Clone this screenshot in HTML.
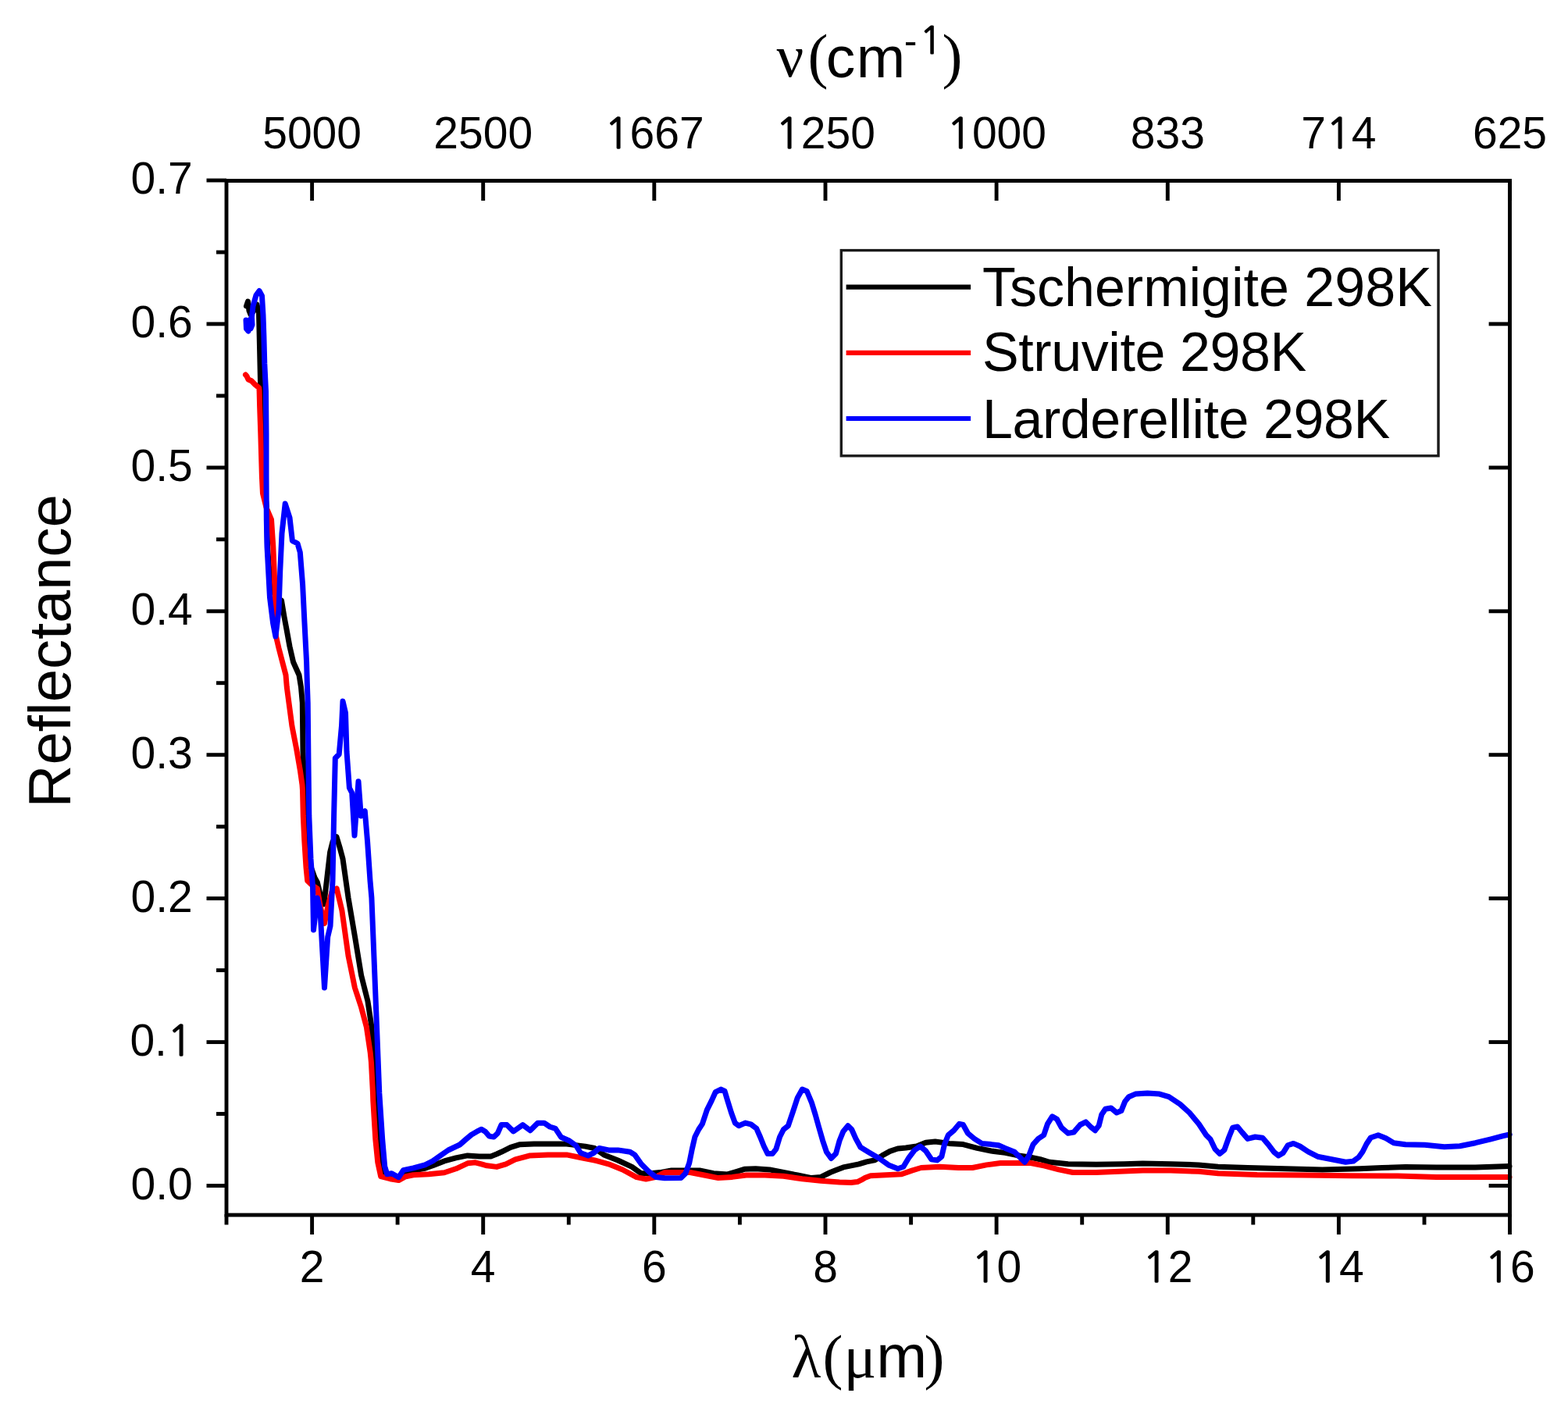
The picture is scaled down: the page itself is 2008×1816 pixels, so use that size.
<!DOCTYPE html>
<html><head><meta charset="utf-8"><title>Reflectance spectra</title>
<style>
html,body{margin:0;padding:0;background:#fff;}
svg{display:block;}
.tl{font-family:"Liberation Sans",Arial,sans-serif;font-size:57px;fill:#000;}
.ti{font-family:"Liberation Sans",Arial,sans-serif;font-size:75px;fill:#000;}
.tx{font-family:"Liberation Serif","Times New Roman",serif;font-size:78px;fill:#000;}
.lg{font-family:"Liberation Sans",Arial,sans-serif;font-size:70px;fill:#000;}
</style></head>
<body>
<svg width="2008" height="1816" viewBox="0 0 2008 1816">
<rect width="2008" height="1816" fill="#fff"/>
<g id="curves">
<path d="M315.5,392.0 L317.5,386.0 L319.0,398.0 L321.0,403.0 L325.0,398.0 L329.0,390.0 L331.5,400.0 L332.6,448.0 L333.5,488.0 L334.5,540.0 L336.5,600.0 L341.5,650.0 L342.5,700.0 L345.5,740.0 L350.0,758.0 L355.0,766.0 L360.5,769.0 L364.0,790.0 L367.0,806.0 L371.0,828.0 L375.6,848.0 L383.0,864.5 L385.5,880.0 L387.3,900.0 L388.0,962.6 L389.3,995.7 L390.0,1012.0 L391.5,1060.0 L394.0,1090.0 L398.0,1110.0 L403.0,1124.0 L406.4,1130.0 L410.0,1145.0 L414.7,1158.0 L417.0,1140.0 L419.7,1116.5 L422.6,1091.6 L426.0,1078.0 L431.0,1071.7 L435.0,1085.0 L439.0,1100.0 L446.0,1149.6 L454.4,1199.0 L462.6,1249.0 L470.9,1282.0 L475.9,1315.0 L479.5,1364.5 L482.5,1400.0 L484.5,1430.0 L487.5,1470.0 L490.0,1498.0 L494.0,1507.0 L503.0,1508.0 L512.0,1507.0 L520.0,1502.0 L530.0,1499.0 L545.0,1496.0 L554.2,1492.8 L569.0,1486.9 L583.9,1482.9 L598.8,1479.9 L613.6,1480.9 L628.5,1480.9 L636.0,1478.0 L642.0,1475.3 L653.9,1469.3 L665.9,1465.7 L683.8,1465.1 L707.7,1465.1 L725.6,1465.1 L749.5,1468.1 L761.5,1470.5 L773.4,1478.9 L791.3,1486.0 L809.3,1494.4 L821.2,1502.8 L833.2,1502.8 L845.1,1501.6 L860.0,1499.0 L895.9,1499.0 L913.8,1502.7 L931.7,1503.9 L943.7,1500.3 L953.2,1497.3 L967.6,1496.7 L985.5,1497.9 L1003.4,1501.5 L1021.3,1505.0 L1039.3,1508.6 L1051.2,1507.4 L1063.2,1501.5 L1070.0,1498.8 L1079.9,1494.9 L1089.9,1492.9 L1099.8,1490.9 L1109.8,1487.9 L1119.8,1485.9 L1129.7,1479.9 L1139.7,1474.4 L1149.6,1471.0 L1160.0,1470.0 L1173.7,1468.0 L1185.6,1463.2 L1197.6,1462.0 L1215.5,1464.4 L1233.4,1465.6 L1251.3,1470.4 L1269.3,1474.0 L1287.2,1476.4 L1305.1,1480.0 L1320.0,1482.3 L1332.0,1484.7 L1343.9,1488.3 L1367.8,1490.7 L1403.7,1491.3 L1439.5,1490.7 L1463.4,1490.1 L1499.3,1490.7 L1535.1,1491.9 L1560.0,1494.3 L1597.8,1495.5 L1645.6,1496.7 L1693.4,1497.9 L1741.2,1496.7 L1769.9,1495.6 L1799.8,1494.6 L1839.6,1495.1 L1889.4,1495.1 L1933.0,1493.6" fill="none" stroke="#000" stroke-width="7.0" stroke-linejoin="round" stroke-linecap="round"/>
<path d="M314.5,480.0 L315.9,481.6 L318.0,486.0 L322.0,487.8 L326.4,492.2 L331.7,496.6 L332.1,500.0 L332.6,520.0 L333.8,555.0 L335.4,610.0 L336.5,632.0 L341.0,650.0 L347.5,665.3 L349.8,700.0 L351.2,732.0 L352.9,782.0 L353.5,815.0 L357.0,830.0 L359.5,839.7 L366.0,864.5 L367.3,880.0 L370.6,904.8 L373.9,929.6 L379.7,959.3 L384.5,987.4 L387.0,1005.0 L387.5,1012.0 L388.3,1045.0 L389.9,1078.0 L392.0,1111.0 L393.7,1128.0 L400.0,1134.0 L406.4,1138.0 L410.0,1160.0 L415.5,1182.6 L420.0,1160.0 L425.0,1142.0 L431.2,1138.0 L437.9,1166.0 L446.0,1224.0 L454.4,1265.0 L462.6,1290.0 L469.3,1315.0 L474.2,1348.0 L475.4,1360.0 L477.5,1400.0 L477.8,1409.6 L480.8,1459.0 L483.8,1488.8 L487.7,1506.7 L499.6,1509.7 L510.5,1511.6 L519.5,1506.7 L529.4,1504.7 L549.2,1503.7 L569.0,1501.7 L583.9,1496.8 L598.8,1489.8 L608.7,1488.8 L616.6,1490.8 L623.5,1492.8 L636.0,1494.4 L647.9,1490.8 L659.9,1484.9 L677.8,1480.1 L701.7,1478.9 L725.6,1478.9 L743.5,1482.5 L761.5,1486.0 L779.4,1490.8 L797.3,1498.0 L815.2,1507.6 L827.2,1510.0 L839.2,1507.6 L851.1,1501.6 L860.0,1501.5 L883.9,1501.5 L901.8,1505.0 L919.8,1508.6 L937.7,1507.4 L955.6,1505.0 L979.5,1505.0 L1003.4,1506.2 L1027.3,1509.8 L1051.2,1512.2 L1075.1,1514.0 L1090.0,1514.5 L1098.0,1513.6 L1103.0,1511.2 L1108.0,1508.2 L1114.8,1505.8 L1134.7,1504.8 L1154.6,1503.8 L1167.7,1499.1 L1179.6,1495.5 L1203.5,1494.3 L1227.4,1495.5 L1245.4,1495.5 L1263.3,1491.9 L1281.2,1489.5 L1305.1,1489.5 L1320.0,1489.5 L1337.9,1493.1 L1355.9,1497.9 L1373.8,1501.5 L1403.7,1501.5 L1433.5,1500.3 L1463.4,1499.1 L1499.3,1499.1 L1535.1,1500.3 L1560.0,1502.7 L1609.8,1504.5 L1669.5,1505.0 L1729.3,1505.7 L1789.8,1506.1 L1839.6,1507.6 L1933.0,1507.6" fill="none" stroke="#f00" stroke-width="7.0" stroke-linejoin="round" stroke-linecap="round"/>
<path d="M315.0,410.0 L315.5,421.0 L318.0,424.0 L318.5,412.0 L320.5,409.0 L321.0,421.0 L323.0,416.0 L322.5,406.0 L324.0,392.0 L328.0,378.0 L332.0,372.5 L335.5,379.0 L337.0,404.0 L337.9,430.5 L338.8,465.7 L340.5,501.0 L341.0,555.0 L341.0,610.0 L341.3,665.0 L342.0,700.0 L345.5,765.0 L349.6,798.0 L352.9,815.0 L357.0,782.0 L358.7,732.0 L361.0,683.0 L365.2,645.0 L371.0,663.0 L374.4,692.6 L381.0,696.0 L384.3,707.4 L387.6,748.8 L390.0,798.0 L392.6,848.0 L393.5,880.0 L394.2,900.0 L395.0,979.0 L395.8,1045.0 L398.0,1100.0 L400.5,1135.0 L401.5,1191.0 L406.4,1150.0 L410.0,1166.0 L415.5,1265.0 L419.7,1200.0 L423.0,1186.0 L426.0,1128.0 L427.6,1045.0 L429.3,971.0 L434.2,966.0 L437.5,929.6 L439.0,898.0 L442.5,913.0 L444.0,962.6 L447.4,1009.0 L450.7,1015.5 L454.0,1070.0 L459.0,1000.7 L462.3,1045.0 L467.3,1038.7 L470.6,1078.0 L474.0,1128.0 L475.9,1149.6 L479.2,1232.0 L482.5,1315.0 L485.8,1400.0 L489.7,1459.0 L492.7,1493.8 L495.7,1503.7 L501.6,1502.7 L510.5,1507.7 L516.5,1498.7 L529.4,1495.8 L544.2,1491.8 L554.2,1486.9 L564.1,1479.9 L574.0,1473.0 L588.8,1466.0 L596.8,1459.0 L603.7,1453.2 L610.6,1449.2 L616.6,1446.2 L621.5,1449.2 L626.5,1455.1 L632.4,1456.1 L637.4,1451.2 L642.0,1440.6 L649.1,1440.6 L657.5,1449.0 L669.4,1440.6 L679.0,1447.8 L688.6,1438.2 L696.9,1438.2 L704.1,1443.0 L711.3,1445.4 L718.4,1456.2 L729.2,1461.0 L737.6,1467.0 L743.5,1476.5 L753.1,1480.0 L760.3,1476.5 L767.4,1470.5 L779.4,1472.9 L791.3,1472.9 L806.9,1475.3 L812.9,1478.9 L821.2,1490.8 L830.8,1500.4 L840.3,1507.6 L851.1,1508.8 L872.0,1508.6 L877.9,1502.7 L882.7,1489.5 L886.3,1471.6 L889.9,1456.0 L894.7,1446.5 L899.4,1439.3 L905.4,1421.4 L911.4,1409.4 L916.2,1398.7 L923.3,1395.1 L928.1,1397.5 L931.7,1409.4 L936.5,1425.0 L941.3,1438.1 L946.1,1441.7 L954.4,1438.1 L961.6,1439.9 L968.8,1445.3 L973.5,1456.0 L978.3,1468.0 L983.1,1477.6 L989.1,1477.6 L993.9,1471.6 L998.6,1456.0 L1003.4,1446.5 L1009.4,1441.7 L1015.4,1423.8 L1021.3,1405.9 L1027.3,1395.1 L1033.3,1397.5 L1039.3,1411.8 L1044.1,1427.4 L1048.8,1444.1 L1053.6,1460.8 L1058.4,1475.2 L1064.4,1483.5 L1070.4,1477.6 L1075.1,1460.8 L1079.9,1448.9 L1085.9,1441.7 L1090.7,1446.5 L1096.0,1458.4 L1102.0,1469.2 L1113.9,1476.4 L1125.9,1483.5 L1137.8,1491.9 L1149.8,1496.7 L1156.9,1494.3 L1164.1,1482.3 L1171.3,1472.8 L1178.4,1468.0 L1185.6,1474.0 L1192.8,1484.7 L1200.0,1485.9 L1205.9,1481.2 L1209.5,1465.6 L1214.3,1453.7 L1221.5,1447.7 L1228.6,1439.3 L1233.4,1440.5 L1239.4,1451.3 L1247.8,1458.4 L1257.3,1464.4 L1269.3,1465.6 L1278.8,1466.8 L1287.2,1470.4 L1299.2,1475.2 L1307.5,1483.5 L1312.3,1488.3 L1317.1,1481.2 L1323.1,1465.6 L1329.6,1458.4 L1336.7,1453.7 L1341.5,1439.3 L1347.5,1429.8 L1353.5,1433.3 L1359.4,1444.1 L1367.8,1451.3 L1375.0,1450.1 L1383.3,1440.5 L1390.5,1436.9 L1396.5,1442.9 L1402.5,1447.7 L1407.2,1441.7 L1410.8,1427.4 L1415.6,1420.2 L1422.8,1419.0 L1430.0,1425.0 L1435.9,1422.6 L1440.7,1410.6 L1445.5,1404.7 L1453.9,1401.1 L1469.4,1399.9 L1484.9,1401.1 L1496.9,1404.7 L1511.2,1414.2 L1523.2,1425.0 L1535.1,1439.3 L1544.7,1453.7 L1550.0,1459.0 L1556.0,1471.6 L1562.0,1477.6 L1567.9,1472.8 L1573.9,1456.0 L1578.7,1444.1 L1584.7,1442.9 L1590.6,1450.1 L1597.8,1458.4 L1607.4,1456.0 L1616.9,1457.2 L1624.1,1465.6 L1631.3,1475.2 L1637.2,1480.0 L1643.2,1476.4 L1649.2,1466.8 L1656.4,1464.4 L1664.7,1468.0 L1675.5,1475.2 L1687.4,1481.2 L1705.4,1484.7 L1723.3,1488.3 L1733.0,1487.1 L1740.0,1482.0 L1745.0,1475.0 L1750.0,1465.0 L1755.3,1457.0 L1764.9,1453.8 L1774.9,1457.8 L1784.8,1463.7 L1799.8,1465.7 L1824.7,1466.2 L1849.6,1468.7 L1869.5,1467.7 L1889.4,1463.7 L1909.3,1458.8 L1924.3,1454.8 L1933.2,1452.8" fill="none" stroke="#00f" stroke-width="7.0" stroke-linejoin="round" stroke-linecap="round"/>
</g>
<g stroke="#000" stroke-width="4.9">
<rect x="290" y="231.5" width="1643.5" height="1324.5" fill="none" stroke="#000" stroke-width="4.9"/>
<line x1="264.5" y1="1518.5" x2="290" y2="1518.5"/>
<line x1="264.5" y1="1334.6" x2="290" y2="1334.6"/>
<line x1="264.5" y1="1150.6" x2="290" y2="1150.6"/>
<line x1="264.5" y1="966.7" x2="290" y2="966.7"/>
<line x1="264.5" y1="782.8" x2="290" y2="782.8"/>
<line x1="264.5" y1="598.9" x2="290" y2="598.9"/>
<line x1="264.5" y1="414.9" x2="290" y2="414.9"/>
<line x1="264.5" y1="231.0" x2="290" y2="231.0"/>
<line x1="277" y1="1426.5" x2="290" y2="1426.5"/>
<line x1="277" y1="1242.6" x2="290" y2="1242.6"/>
<line x1="277" y1="1058.7" x2="290" y2="1058.7"/>
<line x1="277" y1="874.7" x2="290" y2="874.7"/>
<line x1="277" y1="690.8" x2="290" y2="690.8"/>
<line x1="277" y1="506.9" x2="290" y2="506.9"/>
<line x1="277" y1="323.0" x2="290" y2="323.0"/>
<line x1="1906.6" y1="1518.5" x2="1933" y2="1518.5"/>
<line x1="1906.6" y1="1334.6" x2="1933" y2="1334.6"/>
<line x1="1906.6" y1="1150.6" x2="1933" y2="1150.6"/>
<line x1="1906.6" y1="966.7" x2="1933" y2="966.7"/>
<line x1="1906.6" y1="782.8" x2="1933" y2="782.8"/>
<line x1="1906.6" y1="598.9" x2="1933" y2="598.9"/>
<line x1="1906.6" y1="414.9" x2="1933" y2="414.9"/>
<line x1="399.6" y1="1555" x2="399.6" y2="1581"/>
<line x1="618.7" y1="1555" x2="618.7" y2="1581"/>
<line x1="837.8" y1="1555" x2="837.8" y2="1581"/>
<line x1="1057.0" y1="1555" x2="1057.0" y2="1581"/>
<line x1="1276.1" y1="1555" x2="1276.1" y2="1581"/>
<line x1="1495.3" y1="1555" x2="1495.3" y2="1581"/>
<line x1="1714.4" y1="1555" x2="1714.4" y2="1581"/>
<line x1="1933.5" y1="1555" x2="1933.5" y2="1581"/>
<line x1="290.0" y1="1555" x2="290.0" y2="1568.5"/>
<line x1="509.1" y1="1555" x2="509.1" y2="1568.5"/>
<line x1="728.3" y1="1555" x2="728.3" y2="1568.5"/>
<line x1="947.4" y1="1555" x2="947.4" y2="1568.5"/>
<line x1="1166.6" y1="1555" x2="1166.6" y2="1568.5"/>
<line x1="1385.7" y1="1555" x2="1385.7" y2="1568.5"/>
<line x1="1604.8" y1="1555" x2="1604.8" y2="1568.5"/>
<line x1="1824.0" y1="1555" x2="1824.0" y2="1568.5"/>
<line x1="399.6" y1="231" x2="399.6" y2="257"/>
<line x1="618.7" y1="231" x2="618.7" y2="257"/>
<line x1="837.8" y1="231" x2="837.8" y2="257"/>
<line x1="1057.0" y1="231" x2="1057.0" y2="257"/>
<line x1="1276.1" y1="231" x2="1276.1" y2="257"/>
<line x1="1495.3" y1="231" x2="1495.3" y2="257"/>
<line x1="1714.4" y1="231" x2="1714.4" y2="257"/>
<line x1="1933.5" y1="231" x2="1933.5" y2="257"/>
</g>
<g>
<text x="246.7" y="1535.5" text-anchor="end" class="tl">0.0</text>
<text x="246.7" y="1351.6" text-anchor="end" class="tl">0.<tspan font-family="NanumGothic,Liberation Sans,sans-serif" font-size="54" stroke="#000" stroke-width="1.3">1</tspan></text>
<text x="246.7" y="1167.6" text-anchor="end" class="tl">0.2</text>
<text x="246.7" y="983.7" text-anchor="end" class="tl">0.3</text>
<text x="246.7" y="799.8" text-anchor="end" class="tl">0.4</text>
<text x="246.7" y="615.9" text-anchor="end" class="tl">0.5</text>
<text x="246.7" y="431.9" text-anchor="end" class="tl">0.6</text>
<text x="246.7" y="248.0" text-anchor="end" class="tl">0.7</text>
<text x="399.6" y="1642" text-anchor="middle" class="tl">2</text>
<text x="618.7" y="1642" text-anchor="middle" class="tl">4</text>
<text x="837.8" y="1642" text-anchor="middle" class="tl">6</text>
<text x="1057.0" y="1642" text-anchor="middle" class="tl">8</text>
<text x="1276.1" y="1642" text-anchor="middle" class="tl"><tspan font-family="NanumGothic,Liberation Sans,sans-serif" font-size="54" stroke="#000" stroke-width="1.3">1</tspan>0</text>
<text x="1495.3" y="1642" text-anchor="middle" class="tl"><tspan font-family="NanumGothic,Liberation Sans,sans-serif" font-size="54" stroke="#000" stroke-width="1.3">1</tspan>2</text>
<text x="1714.4" y="1642" text-anchor="middle" class="tl"><tspan font-family="NanumGothic,Liberation Sans,sans-serif" font-size="54" stroke="#000" stroke-width="1.3">1</tspan>4</text>
<text x="1933.5" y="1642" text-anchor="middle" class="tl"><tspan font-family="NanumGothic,Liberation Sans,sans-serif" font-size="54" stroke="#000" stroke-width="1.3">1</tspan>6</text>
<text x="399.6" y="190" text-anchor="middle" class="tl">5000</text>
<text x="618.7" y="190" text-anchor="middle" class="tl">2500</text>
<text x="837.8" y="190" text-anchor="middle" class="tl"><tspan font-family="NanumGothic,Liberation Sans,sans-serif" font-size="54" stroke="#000" stroke-width="1.3">1</tspan>667</text>
<text x="1057.0" y="190" text-anchor="middle" class="tl"><tspan font-family="NanumGothic,Liberation Sans,sans-serif" font-size="54" stroke="#000" stroke-width="1.3">1</tspan>250</text>
<text x="1276.1" y="190" text-anchor="middle" class="tl"><tspan font-family="NanumGothic,Liberation Sans,sans-serif" font-size="54" stroke="#000" stroke-width="1.3">1</tspan>000</text>
<text x="1495.3" y="190" text-anchor="middle" class="tl">833</text>
<text x="1714.4" y="190" text-anchor="middle" class="tl">7<tspan font-family="NanumGothic,Liberation Sans,sans-serif" font-size="54" stroke="#000" stroke-width="1.3">1</tspan>4</text>
<text x="1933.5" y="190" text-anchor="middle" class="tl">625</text>
<text y="98.6" class="ti"><tspan x="994.6" y="98.3" font-family="Liberation Serif,Times New Roman,serif" font-size="77">ν</tspan><tspan x="1034.4" y="98.2" font-family="Liberation Serif,Times New Roman,serif" font-size="78">(</tspan><tspan x="1057.8" y="98.6">c</tspan><tspan x="1096.7">m</tspan><tspan x="1157.8" y="69" font-size="50">-</tspan><tspan x="1177.5" y="69" font-size="48" font-family="NanumGothic,Liberation Sans,sans-serif" stroke="#000" stroke-width="1.2">1</tspan><tspan x="1206.5" y="98.2" font-family="Liberation Serif,Times New Roman,serif" font-size="78">)</tspan></text>
<text y="1763.7" class="tx"><tspan x="1013.6">λ</tspan><tspan x="1053.6">(</tspan><tspan x="1080.5">μ</tspan><tspan x="1122.2" font-family="Liberation Sans,Arial,sans-serif">m</tspan><tspan x="1183.5">)</tspan></text>
<text transform="translate(90.2,1034.5) rotate(-90)" x="0" y="0" class="ti" style="font-size:76px">Reflectance</text>
</g>
<g>
<rect x="1077.3" y="320.6" width="764.7" height="263.2" fill="#fff" stroke="#1a1a1a" stroke-width="3.4"/>
<line x1="1083.6" y1="367.6" x2="1243.1" y2="367.6" stroke="#000" stroke-width="6.2"/>
<text x="1258" y="391.6" class="lg" letter-spacing="0">Tschermigite 298K</text>
<line x1="1083.6" y1="451.8" x2="1243.1" y2="451.8" stroke="#f00" stroke-width="6.2"/>
<text x="1258" y="475.2" class="lg" letter-spacing="-0.42">Struvite 298K</text>
<line x1="1083.6" y1="536" x2="1243.1" y2="536" stroke="#00f" stroke-width="6.2"/>
<text x="1258" y="561" class="lg" letter-spacing="-0.44">Larderellite 298K</text>
</g>
</svg>
</body></html>
